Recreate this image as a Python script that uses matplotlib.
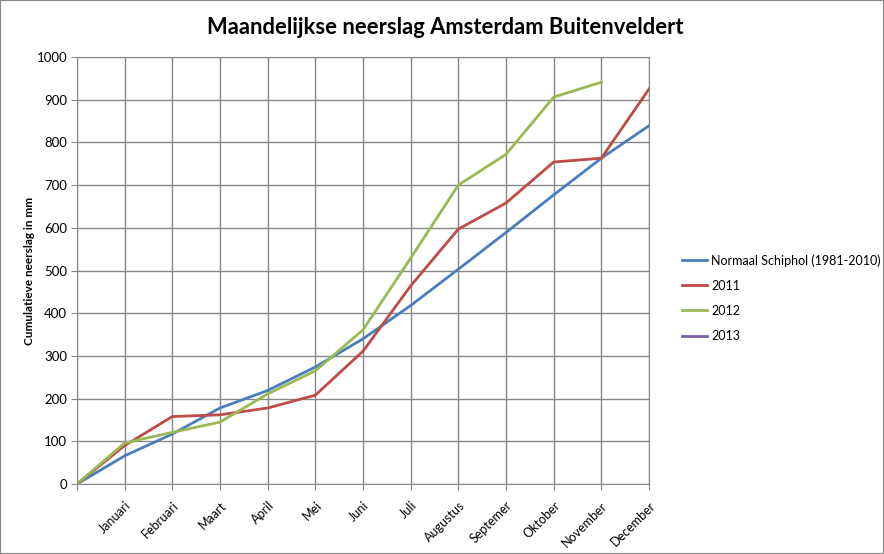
import numpy as np
import matplotlib.pyplot as plt

plt.rcParams['font.family'] = ['Lato', 'DejaVu Sans']

# categories (first position is the start point, no label)
maanden = ['', 'Januari', 'Februari', 'Maart', 'April', 'Mei', 'Juni', 'Juli',
           'Augustus', 'Septemer', 'Oktober', 'November', 'December']

# cumulatieve neerslag in mm
normaal = [0, 66, 117, 178, 219, 274, 340, 418, 503, 589, 677, 763, 839]
jaar_2011 = [0, 90, 158, 162, 178, 208, 311, 464, 597, 658, 754, 763, 925]
jaar_2012 = [0, 96, 121, 145, 211, 265, 361, 529, 700, 772, 906, 941]
jaar_2013 = []

fig = plt.figure(figsize=(8.84, 5.54), dpi=100)
ax = fig.add_axes([77 / 884, 1 - 484 / 554, (649 - 77) / 884, (484 - 57) / 554])

x = np.arange(len(maanden))
ax.plot(x[:len(normaal)], normaal, color='#4A7EBB', lw=2.0, label='Normaal Schiphol (1981-2010)')
ax.plot(x[:len(jaar_2011)], jaar_2011, color='#BE4B48', lw=2.0, label='2011')
ax.plot(x[:len(jaar_2012)], jaar_2012, color='#98B954', lw=2.0, label='2012')
ax.plot(x[:len(jaar_2013)], jaar_2013, color='#7D60A0', lw=2.0, label='2013')

ax.set_xlim(0, len(maanden) - 1)
ax.set_ylim(0, 1000)
ax.set_yticks(np.arange(0, 1001, 100))
ax.set_xticks(x)
ax.set_xticklabels(maanden, rotation=45, ha='right', rotation_mode='anchor', fontsize=9)
ax.tick_params(axis='y', labelsize=9.5, length=4, color='#878787', pad=3)
ax.tick_params(axis='x', length=4, color='#878787', pad=7)
ax.grid(True, color='#878787', lw=1.0)
ax.set_axisbelow(True)
for s in ax.spines.values():
    s.set_color('#878787')

ax.set_ylabel('Cumulatieve neerslag in mm', fontsize=8.5, fontweight='bold')
ax.yaxis.set_label_coords(-0.073, 0.5)
fig.text(445 / 884, 1 - 27 / 554, 'Maandelijkse neerslag Amsterdam Buitenveldert',
         ha='center', va='center', fontsize=15.8, fontweight='bold')

ax.legend(loc='center left', bbox_to_anchor=(671 / 884, 1 - 298 / 554), bbox_transform=fig.transFigure,
          frameon=False, fontsize=9, handlelength=2.0, labelspacing=1.05, handletextpad=0.3)

fig.patches.append(plt.Rectangle((0, 0), 1, 1, transform=fig.transFigure, fill=False,
                                 edgecolor='#878787', lw=1.5))

fig.savefig('out.png', dpi=100)
